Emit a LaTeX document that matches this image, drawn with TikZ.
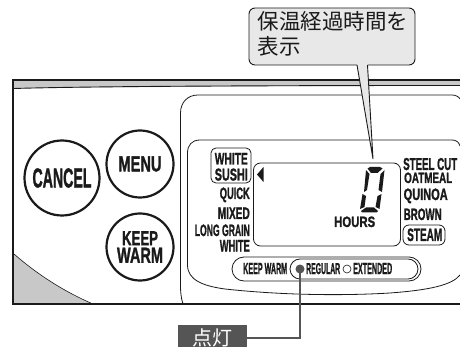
\documentclass[tikz,border=0pt]{standalone}
\usepackage{fontspec}
\usepackage{graphicx}
\setmainfont{Liberation Sans}[BoldFeatures={FakeBold=1.6}]
\newfontfamily\cjk{Noto Sans CJK JP}
\newcommand{\fitt}[3]{\resizebox{#1pt}{#2pt}{\bfseries #3}}
\definecolor{ink}{HTML}{1A1A1A}
\definecolor{band}{HTML}{C8C8C8}
\definecolor{callfill}{HTML}{E8E8E8}
\definecolor{lead}{HTML}{555555}
\tikzset{
  btn/.style={circle,draw=ink,line width=2.2pt,fill=white,inner sep=0pt,align=center,text=ink,font=\fontsize{10}{17.5}\selectfont},
  lbl/.style={inner sep=0pt,text=ink},
  lblr/.style={lbl,anchor=base east},
  lbll/.style={lbl,anchor=base west},
  thinl/.style={draw=ink,line width=.8pt},
  seg/.style={fill=ink,draw=none}
}
\begin{document}
\begin{tikzpicture}[x=1pt,y=-1pt]
\useasboundingbox (0,0) rectangle (460,347);
% panel
\fill[band] (13,80) -- (460,80) -- (460,85) -- (13,88) -- cycle;
\draw[ink,line width=.9pt] (13.5,88.5) .. controls (100,86) and (300,85.5) .. (460,85.5);
\fill[band] (14,254) .. controls (38,275) and (65,292) .. (93,304) -- (14,304) -- cycle;
\draw[ink,line width=.6pt] (14,254) .. controls (38,275) and (65,292) .. (93,304);
% outer bezel
\draw[thinl] (183,304) .. controls (181,298) and (180.5,292) .. (180.5,285) -- (180.5,113) .. controls (180.5,102) and (188,95) .. (198,95) -- (452,95) .. controls (456,95) and (459,97) .. (460,99);
% inner bezel
\draw[thinl] (460,146) .. controls (459,142) and (456,140) .. (452,140) -- (200,140) .. controls (192,140) and (187.5,145) .. (187.5,153) -- (187.5,265) .. controls (187.5,280) and (203,286) .. (225,289) .. controls (280,295) and (340,296) .. (390,293) .. controls (430,290) and (452,285) .. (460,275);
\draw[ink,line width=2pt] (460,80) -- (13,80) -- (13,304) -- (460,304);
% buttons
\node[btn,minimum size=75pt] (cancel) at (62,178) {\fitt{59}{19}{CANCEL}};
\node[btn,minimum size=67pt] (menu) at (140,164) {\fitt{43}{15}{MENU}};
\node[btn,minimum size=67pt] (keep) at (140,247) {\fitt{36}{14}{KEEP}\\\fitt{46}{15}{WARM}};
% lcd
\node[draw=ink,line width=.8pt,rounded corners=7pt,minimum width=147pt,minimum height=83pt,inner sep=0pt] (lcd) at (327,204.5) {};
\fill[ink] (257,174.5) -- (263.5,167) -- (263.5,182) -- cycle;
% left labels
\node[draw=ink,line width=.8pt,rounded corners=5pt,minimum width=40pt,minimum height=35pt,inner sep=0pt] (wsbox) at (231,165.5) {};
\node[lblr] (white1) at (248,164.5) {\fitt{33}{11.5}{WHITE}};
\node[lblr] (sushi) at (248,180.5) {\fitt{33}{12}{SUSHI}};
\node[lblr] (quick) at (250,199) {\fitt{30}{11.5}{QUICK}};
\node[lblr] (mixed) at (250,219) {\fitt{32}{11.5}{MIXED}};
\node[lblr] (lgrain) at (250,236) {\fitt{55}{11.5}{LONG GRAIN}};
\node[lblr] (white2) at (250,251.5) {\fitt{30}{11.5}{WHITE}};
% right labels
\node[lbll] (steel) at (403,170) {\fitt{54}{12}{STEEL CUT}};
\node[lbll] (oat) at (404,183) {\fitt{48}{10.5}{OATMEAL}};
\node[lbll] (quinoa) at (403.5,200) {\fitt{44}{11.5}{QUINOA}};
\node[lbll] (brown) at (403.5,220) {\fitt{38}{11.5}{BROWN}};
\node[draw=ink,line width=.8pt,rounded corners=6pt,minimum width=42pt,minimum height=20pt,inner sep=0pt] (steam) at (424,235) {};
\node[lbll] (steamt) at (407,241) {\fitt{35}{12.5}{STEAM}};
\node[lbll] (hours) at (334,227) {\fitt{41}{10.5}{HOURS}};
% digit
\fill[seg] (370,167) -- (380,167) -- (382.5,168.5) -- (377.5,173) -- (371,173) -- (367.5,168.5) -- cycle;
\fill[seg] (366,170) -- (369.5,174) -- (367,190) -- (364,192) -- cycle;
\fill[seg] (384.5,170) -- (382,192) -- (378.5,190) -- (380.5,174) -- cycle;
\fill[seg] (362.5,194) -- (366,196) -- (364.5,207) -- (360,209) -- cycle;
\fill[seg] (381.5,194) -- (379.5,209) -- (375.5,207) -- (377.5,196) -- cycle;
\fill[seg] (366,207.5) -- (374,207.5) -- (378,211) -- (376.5,212.5) -- (362,212.5) -- (361,211) -- cycle;
% pill
\node[draw=ink,line width=.8pt,rounded corners=12pt,minimum width=189pt,minimum height=24pt,inner sep=0pt] (pillout) at (326.5,269) {};
\node[draw=ink,line width=.8pt,rounded corners=10pt,minimum width=128pt,minimum height=20pt,inner sep=0pt] (pillin) at (354,269) {};
\node[lbll] (kw) at (243,274) {\fitt{44}{11}{KEEP WARM}};
\node[lbll] (reg) at (306,274) {\fitt{34}{11}{REGULAR}};
\node[lbll] (ext) at (353,274) {\fitt{39}{11}{EXTENDED}};
\node[circle,draw=ink,line width=.6pt,minimum size=8pt,inner sep=0pt] (off) at (347,269) {};
\node[circle,fill=lead,minimum size=9pt,inner sep=0pt] (on) at (300,269) {};
% lead
\node[fill=lead,text=white,minimum width=69pt,minimum height=25pt,inner sep=0pt,font=\cjk\fontsize{20}{20}\selectfont] (lit) at (212.5,337.5) {点灯};
\coordinate (bend) at (300,338);
\draw[lead,line width=1.9pt] (on.center) -- (bend) -- (lit.east |- bend);
% callout
\draw[ink,line width=.9pt,fill=callfill,rounded corners=6pt] (357,65) -- (249,65) -- (249,8) -- (415,8) -- (415,65) -- (367.5,65);
\fill[callfill] (357,64) -- (367.5,64) -- (373,159) -- cycle;
\draw[ink,line width=.9pt] (357,65) -- (373,159) -- (367.5,65);
\node[anchor=north west,inner sep=0pt,align=left,text=ink,font=\cjk\fontsize{21.5}{25}\selectfont] (call) at (257.5,11) {保温経過時間を\\表示};
\end{tikzpicture}
\end{document}
